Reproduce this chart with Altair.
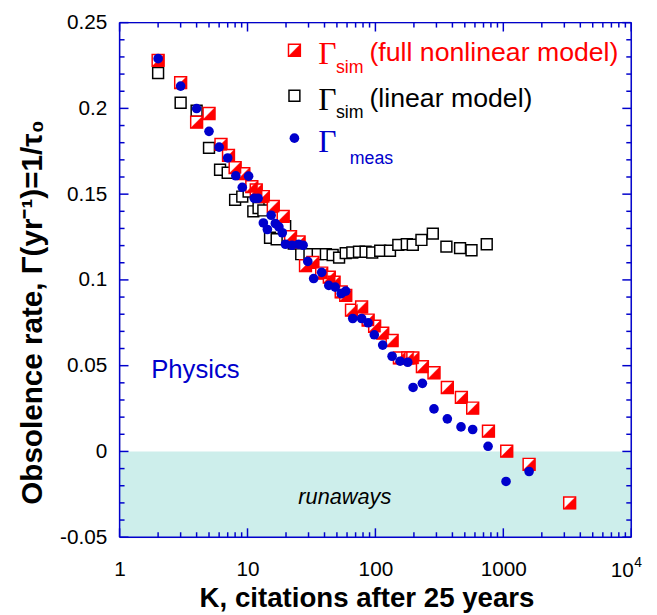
import altair as alt
import pandas as pd

# ---------------- data ----------------
# Gamma_sim, full nonlinear model (red half-filled squares)
red_k = [2, 3, 4, 5, 6.2, 7.1, 8, 9.35, 10.8, 11.7, 13.3, 15.9, 19, 21.7, 25.3,
         28.4, 32.4, 38, 43.6, 47.5, 54, 58.6, 65, 78, 87.7, 98.6, 114, 135, 154, 179,
         196, 233, 287, 365, 470, 576, 765, 1063, 1590, 3300]
red_g = [0.228, 0.215, 0.192, 0.197, 0.179, 0.1726, 0.1655, 0.162, 0.1544, 0.1525,
         0.1486, 0.1429, 0.137, 0.1252, 0.1221, 0.1083, 0.1102, 0.104, 0.1016, 0.0987,
         0.093, 0.091, 0.0824, 0.0843, 0.0766, 0.073, 0.069, 0.0647, 0.0545, 0.0545,
         0.0545, 0.0494, 0.0459, 0.0373, 0.0315, 0.0253, 0.0118, 0.0002, -0.0075, -0.030]

# Gamma_sim, linear model (open black squares)
lin_k = [2, 3, 4, 5, 6.1, 7, 8, 9.1, 10.2, 11.1, 12.2, 13.3, 15, 16.9, 19.7,
         23, 26.3, 30.5, 35.4, 41, 46.3, 52, 58.6, 66, 74.4, 83.8, 94.4, 109, 130, 151,
         176, 196, 229, 281, 359, 459, 564, 742]
lin_g = [0.2206, 0.2033, 0.1986, 0.177, 0.1642, 0.1625, 0.1467, 0.1486, 0.1515, 0.140,
         0.1419, 0.1405, 0.1246, 0.1237, 0.1313, 0.1212, 0.115, 0.115, 0.115, 0.115,
         0.1145, 0.113, 0.1156, 0.116, 0.1164, 0.1164, 0.116, 0.117, 0.117, 0.1204,
         0.1208, 0.1205, 0.1233, 0.127, 0.1194, 0.1185, 0.1173, 0.1208]

# Gamma_meas (blue dots)
meas_k = [2, 3, 4, 5, 6, 7, 8.1, 9.1, 10.2, 11.3, 12.1, 13.3, 14.3, 15.3, 16.5,
          17.6, 18.7, 19.8, 22.3, 25.1, 27.2, 29.6, 32.9, 38, 43.2, 48.5, 54, 58.6,
          66.5, 78, 87.7, 98, 114, 135, 156, 179, 197, 233, 287, 365, 467, 576, 760,
          1050, 1590]
meas_g = [0.229, 0.213, 0.1999, 0.1866, 0.1774, 0.1711, 0.1607, 0.154, 0.1605, 0.1476,
          0.1476, 0.1332, 0.1294, 0.1377, 0.1329, 0.1309, 0.1275, 0.1208, 0.1202, 0.1208,
          0.1202, 0.1108, 0.1008, 0.1044, 0.0968, 0.0958, 0.092, 0.0935, 0.0775, 0.0775,
          0.075, 0.068, 0.062, 0.0555, 0.0526, 0.052, 0.0373, 0.0397, 0.0248, 0.019,
          0.0143, 0.0128, 0.003, -0.0175, -0.0117]

# axis ticks
x_major = [1, 10, 100, 1000, 10000]
x_minor = [m * 10 ** d for d in range(4) for m in range(2, 10)]
y_major = [-0.05, 0.0, 0.05, 0.1, 0.15, 0.2, 0.25]
y_minor = [-0.04, -0.03, -0.02, -0.01, 0.01, 0.02, 0.03, 0.04, 0.06, 0.07, 0.08, 0.09,
           0.11, 0.12, 0.13, 0.14, 0.16, 0.17, 0.18, 0.19, 0.21, 0.22, 0.23, 0.24]

# ---------------- styling ----------------
W, H = 518, 521
BLUE = "#0000cc"
RED = "#ff0000"
FONT = "Liberation Sans"
SERIF = "Liberation Serif"

xs = alt.Scale(type="log", domain=[1, 10000], nice=False)
ys = alt.Scale(domain=[-0.05, 0.25], nice=False, zero=False)

red_df = pd.DataFrame({"K": red_k, "G": red_g})
lin_df = pd.DataFrame({"K": lin_k, "G": lin_g})
meas_df = pd.DataFrame({"K": meas_k, "G": meas_g})
one = pd.DataFrame({"d": [0]})

x_axis = alt.Axis(
    values=x_major,
    labelExpr="datum.value == 10000 ? '' : format(datum.value, 'd')",
    ticks=False, domain=False, grid=False,
    labelFont=FONT, labelFontSize=21, labelColor="black",
    labelBaseline="middle", labelPadding=33, labelFlush=False, labelOverlap=False,
    title="K, citations after 25 years",
    titleFont=FONT, titleFontSize=28, titleFontWeight="bold", titleColor="black",
    titleX=250, titleY=70, titleBaseline="alphabetic", titleAlign="center",
)
y_axis = alt.Axis(
    values=y_major,
    labelExpr="replace(format(datum.value, '~g'), '\u2212', '-')",
    ticks=False, domain=False, grid=False,
    labelFont=FONT, labelFontSize=21, labelColor="black",
    labelBaseline="middle", labelPadding=13, labelFlush=False, labelOverlap=False,
    title="Obsolence rate, \u0393(yr\u207b\u00b9)=1/\u03c4\u2080",
    titleFont=FONT, titleFontSize=30, titleFontWeight="bold", titleColor="black",
    titleAngle=270, titleX=-79, titleY=293, titleBaseline="alphabetic", titleAlign="center",
)


def X(field):
    return alt.X(field, scale=xs, axis=x_axis)


def Y(field):
    return alt.Y(field, scale=ys, axis=y_axis)


shade = alt.Chart(pd.DataFrame({"x0": [1], "x1": [10000], "y0": [-0.05], "y1": [0.0]})).mark_rect(
    color="#cdeeeb"
).encode(x=X("x0:Q"), x2="x1:Q", y=Y("y0:Q"), y2="y1:Q")


def pts(df):
    return alt.Chart(df).encode(x=X("K:Q"), y=Y("G:Q"))


TRI = "M1,-1L1,1L-1,1Z"

lin_pts = pts(lin_df).mark_point(shape="square", size=121, fill="white", stroke="black",
                                 strokeWidth=1.5, fillOpacity=1, opacity=1)
red_sq = pts(red_df).mark_point(shape="square", size=144, fill="white", stroke=RED,
                                strokeWidth=1.5, fillOpacity=1, opacity=1)
red_tri = pts(red_df).mark_point(shape=TRI, size=144, fill=RED, stroke=RED,
                                 strokeWidth=0.5, fillOpacity=1, opacity=1)
meas_pts = pts(meas_df).mark_circle(size=95, color=BLUE, opacity=1)


def yticks(vals, length, right=False):
    x0, x1 = (W, W - length) if right else (0, length)
    return alt.Chart(pd.DataFrame({"v": vals})).mark_rule(color=BLUE, strokeWidth=1.5).encode(
        y=Y("v:Q"), x=alt.value(x0), x2=alt.value(x1))


def xticks(vals, length, top=False):
    y0, y1 = (0, length) if top else (H, H - length)
    return alt.Chart(pd.DataFrame({"v": vals})).mark_rule(color=BLUE, strokeWidth=1.5).encode(
        x=X("v:Q"), y=alt.value(y0), y2=alt.value(y1))


ticks = [
    yticks(y_major, 9), yticks(y_minor, 5), yticks(y_major, 9, True), yticks(y_minor, 5, True),
    xticks(x_major, 9), xticks(x_minor, 5), xticks(x_major, 9, True), xticks(x_minor, 5, True),
]

frame = [
    alt.Chart(one).mark_rule(color=BLUE, strokeWidth=1.5).encode(x=alt.value(0), x2=alt.value(W), y=alt.value(0)),
    alt.Chart(one).mark_rule(color=BLUE, strokeWidth=1.5).encode(x=alt.value(0), x2=alt.value(W), y=alt.value(H)),
    alt.Chart(one).mark_rule(color=BLUE, strokeWidth=1.5).encode(y=alt.value(0), y2=alt.value(H), x=alt.value(0)),
    alt.Chart(one).mark_rule(color=BLUE, strokeWidth=1.5).encode(y=alt.value(0), y2=alt.value(H), x=alt.value(W)),
]


def txt(s, x, y, size, color="black", font=FONT, **kw):
    return alt.Chart(one).mark_text(text=s, font=font, fontSize=size, color=color,
                                    align=kw.pop("align", "left"), baseline="alphabetic", **kw).encode(
        x=alt.value(x), y=alt.value(y))


# 10^4 tick label with a real superscript
pow_label = [
    txt("10", W - 9, H + 40, 21, align="center"),
    txt("4", W + 3, H + 30, 14),
]

LX, R1, R2, R3 = 177, 28, 74, 117
GX, SX, TX = 201, 219, 253
legend = [
    alt.Chart(one).mark_point(shape="square", size=144, fill="white", stroke=RED, strokeWidth=1.5,
                              fillOpacity=1, opacity=1).encode(x=alt.value(LX), y=alt.value(R1)),
    alt.Chart(one).mark_point(shape=TRI, size=144, fill=RED, stroke=RED, strokeWidth=0.5,
                              fillOpacity=1, opacity=1).encode(x=alt.value(LX), y=alt.value(R1)),
    alt.Chart(one).mark_point(shape="square", size=121, fill="white", stroke="black", strokeWidth=1.5,
                              fillOpacity=1, opacity=1).encode(x=alt.value(LX), y=alt.value(R2)),
    alt.Chart(one).mark_circle(size=95, color=BLUE, opacity=1).encode(x=alt.value(LX), y=alt.value(R3)),
    txt("\u0393", GX, R1 + 14, 32, RED, SERIF),
    txt("sim", SX, R1 + 23, 18, RED),
    txt("(full nonlinear model)", TX, R1 + 11, 27, RED),
    txt("\u0393", GX, R2 + 14, 32, "black", SERIF),
    txt("sim", SX, R2 + 23, 18, "black"),
    txt("(linear model)", TX, R2 + 11, 27, "black"),
    txt("\u0393", GX, R3 + 14, 32, BLUE, SERIF),
    txt("meas", 233, R3 + 26, 18, BLUE),
]

notes = [
    txt("Physics", 32, 360, 26, BLUE),
    txt("runaways", 228, 487, 22, "black", align="center", fontStyle="italic"),
]

chart = alt.layer(
    shade, lin_pts, red_sq, red_tri, meas_pts, *ticks, *frame, *legend, *notes, *pow_label
).properties(
    width=W, height=H,
    autosize=alt.AutoSizeParams(type="none"),
    padding={"left": 113, "top": 11, "right": 18, "bottom": 78},
).configure_view(stroke=None).configure(background="white")

chart.save("out.html", embed_options={"renderer": "svg", "actions": False})
